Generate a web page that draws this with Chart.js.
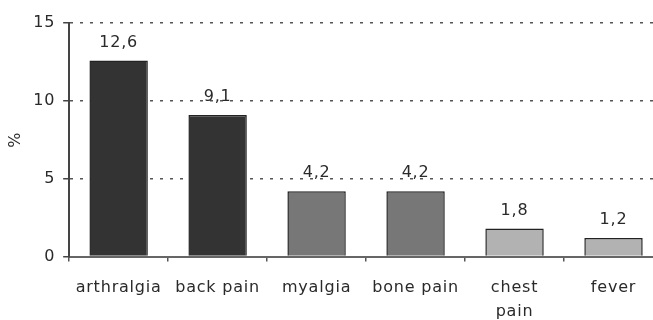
<!DOCTYPE html>
<html>
<head>
<meta charset="utf-8">
<script src="https://cdn.jsdelivr.net/npm/chart.js@4/dist/chart.umd.min.js"></script>
<style>
  html, body { margin: 0; padding: 0; background: #fff; overflow: hidden; }
  #wrap { width: 653px; height: 320px; overflow: hidden; }
</style>
</head>
<body>
<div id="wrap"><canvas id="c" width="663" height="320"></canvas></div>
<script>
// Symptom categories and their frequencies (%)
const categories = ["arthralgia", "back pain", "myalgia", "bone pain", ["chest", "pain"], "fever"];
const percentages = [12.6, 9.1, 4.2, 4.2, 1.8, 1.2];
const barColors = ["#333333", "#333333", "#777777", "#777777", "#b2b2b2", "#b2b2b2"];
const yTicks = [0, 5, 10, 15];

const FONT = "'DejaVu Sans', Verdana, sans-serif";
const SPACING = "0.8px";
const fmt = v => String(v).replace(".", ",");

// Slightly wider lettering for every piece of text on the canvas
const letterSpacing = {
  id: "letterSpacing",
  beforeInit(chart) { chart.ctx.letterSpacing = SPACING; },
  beforeLayout(chart) { chart.ctx.letterSpacing = SPACING; },
  beforeDraw(chart) { chart.ctx.letterSpacing = SPACING; }
};

// Value labels above each bar
const valueLabels = {
  id: "valueLabels",
  afterDatasetsDraw(chart) {
    const ctx = chart.ctx;
    const meta = chart.getDatasetMeta(0);
    ctx.save();
    ctx.letterSpacing = SPACING;
    ctx.font = "16px " + FONT;
    ctx.fillStyle = "#2a2a2a";
    ctx.textAlign = "center";
    ctx.textBaseline = "middle";
    meta.data.forEach((bar, i) => {
      ctx.fillText(fmt(percentages[i]), bar.x, bar.y - 18);
    });
    ctx.restore();
  }
};

new Chart(document.getElementById("c"), {
  type: "bar",
  data: {
    labels: categories,
    datasets: [{
      data: percentages,
      backgroundColor: barColors,
      borderColor: "#222",
      borderWidth: 1.5,
      categoryPercentage: 0.59,
      barPercentage: 1.0
    }]
  },
  options: {
    responsive: false,
    animation: false,
    layout: { padding: { top: 23, right: 0, left: -10, bottom: -18 } },
    plugins: { legend: { display: false }, tooltip: { enabled: false } },
    scales: {
      x: {
        grid: {
          display: true,
          drawOnChartArea: false,
          drawTicks: true,
          tickLength: 5,
          color: "#555",
          lineWidth: 1.5
        },
        border: { display: true, color: "#666", width: 2 },
        ticks: {
          color: "#2a2a2a",
          font: { family: FONT, size: 16, lineHeight: 1.45 },
          padding: 15,
          maxRotation: 0,
          autoSkip: false
        }
      },
      y: {
        min: 0,
        max: 15,
        afterBuildTicks(axis) {
          axis.ticks = yTicks.map(v => ({ value: v }));
        },
        grid: {
          display: true,
          color: "#555",
          lineWidth: 1.5,
          drawTicks: true,
          tickLength: 6,
          tickColor: "#444",
          tickBorderDash: []
        },
        border: { display: true, color: "#444", width: 2, dash: [3, 7] },
        ticks: {
          color: "#2a2a2a",
          font: { family: FONT, size: 16 },
          padding: 8
        },
        title: {
          display: true,
          text: "%",
          color: "#2a2a2a",
          font: { family: FONT, size: 16 },
          padding: { top: 16, bottom: 0 }
        }
      }
    }
  },
  plugins: [letterSpacing, valueLabels]
});
</script>
</body>
</html>
